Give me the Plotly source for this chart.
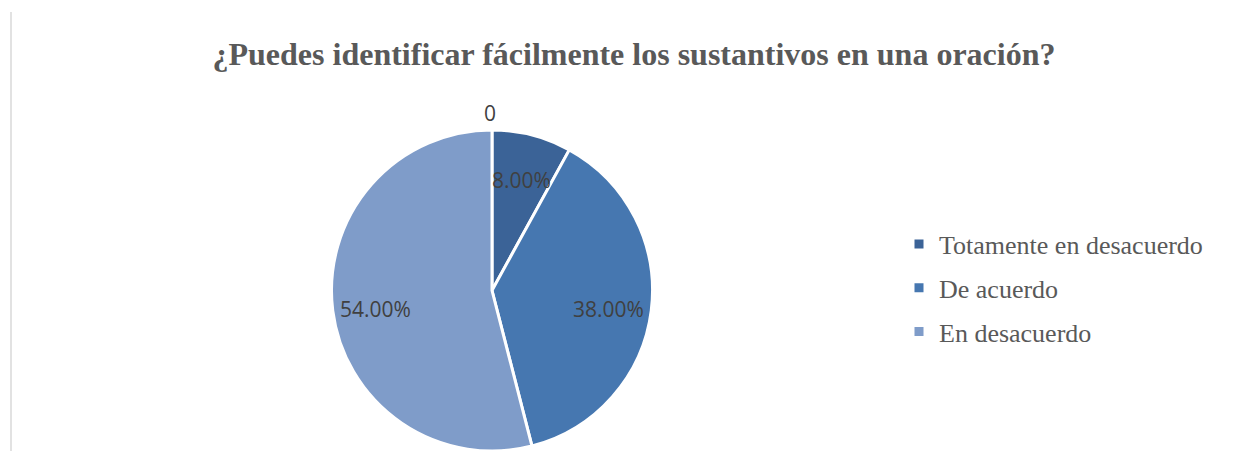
import math
import plotly.graph_objects as go

categories = ["Totamente en desacuerdo", "De acuerdo", "En desacuerdo"]
values = [8.0, 38.0, 54.0]
colors = ["#3B6397", "#4677B0", "#7F9CC9"]
title_text = "¿Puedes identificar fácilmente los sustantivos en una oración?"
zero_label = "0"

# page body has an 8px margin; figure sized to fit the window
W, H = 1240, 443
# pie center / size in figure pixels
cx, cy, half = 484, 283, 161

dom_x = [(cx - half) / W, (cx + half) / W]
dom_y = [max(0.0, 1 - (cy + half) / H), 1 - (cy - half) / H]

fig = go.Figure()
fig.add_trace(go.Pie(
    labels=categories,
    values=values,
    sort=False,
    direction="clockwise",
    rotation=0,
    marker=dict(colors=colors, line=dict(color="white", width=3)),
    textinfo="none",
    domain=dict(x=dom_x, y=dom_y),
    showlegend=False,
    hoverinfo="label+percent",
))

# legend entries
for name, col in zip(categories, colors):
    fig.add_trace(go.Scatter(
        x=[None], y=[None], mode="markers", name=name, legendgroup=name,
        marker=dict(symbol="square", size=9, color=col),
    ))

# percentage labels placed at slice mid-angles
r = half - 2
total = sum(values)
cum = 0.0
lab_font = dict(family="Open Sans", size=21, color="#404040")
for v in values:
    mid = (cum + v / 2) / total * 2 * math.pi
    cum += v
    px = cx + 0.74 * r * math.sin(mid)
    py = cy - 0.74 * r * math.cos(mid) + 3
    fig.add_annotation(text=f"{v:.2f}%", x=px / W, y=1 - py / H,
                       xref="paper", yref="paper", showarrow=False, font=lab_font,
                       xanchor="center", yanchor="middle")

fig.add_annotation(
    text=zero_label, x=(cx - 2) / W, y=1 - (cy - r - 19) / H, xref="paper", yref="paper",
    showarrow=False, font=lab_font, xanchor="center", yanchor="middle",
)

fig.add_shape(type="line", xref="paper", yref="paper",
              x0=3 / W, x1=3 / W, y0=0, y1=1 - 4 / H,
              line=dict(color="#D9D9D9", width=1.5))

fig.update_layout(
    width=W, height=H,
    margin=dict(l=0, r=0, t=0, b=0),
    paper_bgcolor="white",
    plot_bgcolor="white",
    xaxis=dict(visible=False),
    yaxis=dict(visible=False),
    title=dict(text="<b>" + title_text + "</b>", x=626 / W, xanchor="center",
               y=1 - 46 / H, yanchor="middle",
               font=dict(family="Liberation Serif", size=32, color="#595959")),
    legend=dict(x=891 / W, y=1 - 280 / H, xanchor="left", yanchor="middle",
                font=dict(family="Liberation Serif", size=26, color="#595959"),
                itemwidth=30, tracegroupgap=7, traceorder="grouped"),
    showlegend=True,
)

fig.write_html("out.html")
